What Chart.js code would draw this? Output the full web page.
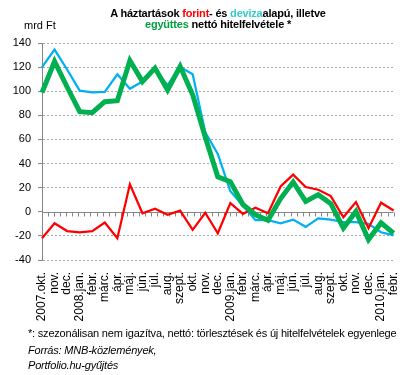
<!DOCTYPE html>
<html lang="hu">
<head>
<meta charset="utf-8">
<title>Nettó hitelfelvétel</title>
<script src="https://cdn.jsdelivr.net/npm/chart.js@4/dist/chart.umd.min.js"></script>
<style>
  body { margin: 0; background: #fff; }
  #wrap { position: relative; width: 412px; height: 375px; overflow: hidden; font-family: "Liberation Sans", Arial, sans-serif; color: #000; }
  #my-chart { position: absolute; left: 0; top: 0; }
  .txt { position: absolute; white-space: nowrap; }
  #title { left: 0; width: 436px; top: 8px; text-align: center; font-weight: bold; font-size: 11px; line-height: 11px; letter-spacing: -0.2px; }
  #unit { left: 24px; top: 19px; font-size: 11px; }
  #note { left: 28px; top: 327px; font-size: 11px; letter-spacing: -0.2px; }
  #source { left: 28px; top: 343px; font-size: 11px; font-style: italic; line-height: 15px; letter-spacing: -0.2px; }
  .red { color: #ff0000; }
  .cyan { color: #33cccc; }
  .green { color: #00a040; }
</style>
</head>
<body>
<div id="wrap">
  <canvas id="my-chart" width="412" height="375"></canvas>
  <div id="title" class="txt">A háztartások <span class="red">forint</span>- és <span class="cyan">deviza</span>alapú, illetve<br><span class="green">együttes</span> nettó hitelfelvétele *</div>
  <div id="unit" class="txt">mrd Ft</div>
  <div id="note" class="txt">*: szezonálisan nem igazítva, nettó: törlesztések és új hitelfelvételek egyenlege</div>
  <div id="source" class="txt">Forrás: MNB-közlemények,<br>Portfolio.hu-gyűjtés</div>
</div>
<script>
'use strict';
// ***** DATA *****
let months = ['2007.okt.', 'nov.', 'dec.', '2008.jan.', 'febr.', 'márc.', 'ápr.', 'máj.', 'jún.', 'júl.', 'aug.', 'szept.', 'okt.', 'nov.', 'dec.',
  '2009.jan.', 'febr.', 'márc.', 'ápr.', 'máj.', 'jún.', 'júl.', 'aug.', 'szept.', 'okt.', 'nov.', 'dec.', '2010.jan.', 'febr.'];
let forint = [-22, -9.5, -16, -17, -16, -9, -22, 22.8, -1.2, 2.5, -2.5, 1, -15, -0.8, -17.8,
  7.2, -1.7, 3.3, -1.2, 21, 30.8, 20.5, 18.3, 13, -4.5, 8, -13.6, 7.5, 1];
let deviza = [120, 134.5, 118, 100.5, 99, 99.5, 114, 102, 108, 118, 105, 120, 114, 66, 48,
  17, 5, -7, -7, -9.5, -6.5, -12.5, -5.5, -6.5, -8.5, -8.5, -10, -17, -19.5];
let egyuttes = [98.8, 124.7, 103.5, 83, 82.2, 91.3, 92.2, 125.5, 108, 119.2, 101, 120.5, 97, 62, 29,
  25, 6, -2.5, -7, 11, 24.7, 8.6, 14.2, 6.7, -13.6, 0.3, -23, -9.2, -17.8];
let yTicks = [-40, -20, 0, 20, 40, 60, 80, 100, 120, 140];

let ctx = document.getElementById('my-chart');
let axisGray = '#868686';

// solid zero line with small tick marks (x axis crosses at 0)
let zeroAxisPlugin = {
  id: 'zeroAxis',
  beforeDatasetsDraw(chart) {
    let c = chart.ctx;
    let area = chart.chartArea;
    let y0 = Math.round(chart.scales.y.getPixelForValue(0)) + 0.5;
    let half = (area.right - area.left) / (months.length * 2);
    c.save();
    c.strokeStyle = axisGray;
    c.lineWidth = 1;
    c.beginPath();
    c.moveTo(area.left, y0);
    c.lineTo(area.right, y0);
    for (let k = 1; k <= months.length * 2; k++) {
      let x = Math.round(area.left + k * half) + 0.5;
      c.moveTo(x, y0);
      c.lineTo(x, y0 + 4);
    }
    c.stroke();
    c.restore();
  }
};

let chartDatasets = [
  { label: 'együttes', data: egyuttes, borderColor: '#00b050', borderWidth: 5 },
  { label: 'forint', data: forint, borderColor: '#ff0000', borderWidth: 2.25 },
  { label: 'deviza', data: deviza, borderColor: '#00b0f0', borderWidth: 2.25 }
];

new Chart(ctx, {
  type: 'line',
  data: { labels: months, datasets: chartDatasets },
  options: {
    responsive: false,
    animation: false,
    layout: { padding: { top: 43, right: 8, left: 0, bottom: 0 } },
    elements: { point: { radius: 0 }, line: { tension: 0, fill: false } },
    plugins: { legend: { display: false }, tooltip: { enabled: false } },
    scales: {
      x: {
        grid: { display: false },
        border: { display: false },
        afterFit: (scale) => { scale.height = 115; },
        ticks: {
          autoSkip: false, maxRotation: 90, minRotation: 90, padding: 4,
          color: '#000', font: { family: 'Liberation Sans', size: 12 }
        }
      },
      y: {
        min: -40, max: 140,
        afterFit: (scale) => { scale.width = 42; },
        afterBuildTicks: (scale) => { scale.ticks = yTicks.map((v) => ({ value: v })); },
        border: { display: true, color: axisGray, width: 1, dash: [2, 2] },
        grid: {
          color: (c) => (c.tick && c.tick.value === 0 ? 'rgba(0,0,0,0)' : '#a6a6a6'),
          tickColor: axisGray, tickLength: 4, lineWidth: 1
        },
        ticks: { padding: 7, color: '#000', font: { family: 'Liberation Sans', size: 11 } }
      }
    }
  },
  plugins: [zeroAxisPlugin]
});
</script>
</body>
</html>
